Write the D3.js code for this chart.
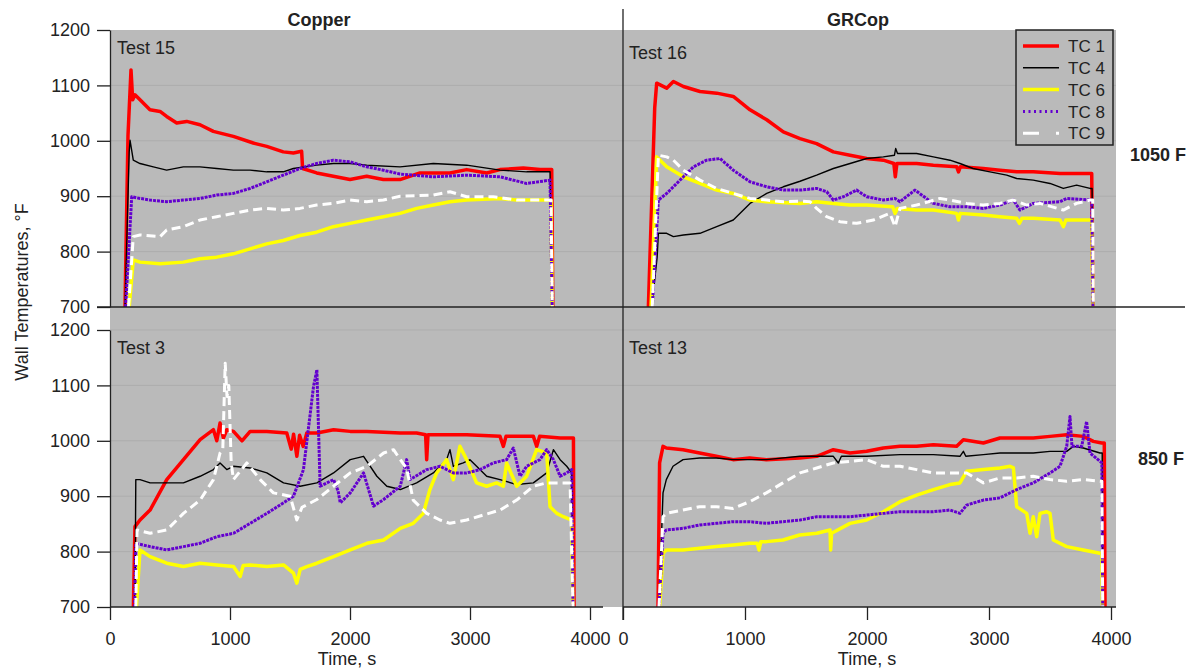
<!DOCTYPE html>
<html>
<head>
<meta charset="utf-8">
<script src="https://d3js.org/d3.v7.min.js"></script>
<style>
  body { margin: 0; background: #fff; }
  svg text { font-family: 'Liberation Sans', Arial, sans-serif; fill: #222; }
</style>
</head>
<body>
<div id="chart"></div>
<script>
// thermocouple names, in legend order
const tcNames = ['TC 1', 'TC 4', 'TC 6', 'TC 8', 'TC 9'];
const xTicks = [0, 1000, 2000, 3000, 4000];
const yTicks = [700, 800, 900, 1000, 1100, 1200];
const columnTitles = ['Copper', 'GRCop'];
const rowTitles = ['1050 F', '850 F'];

// [time s, wall temperature F]
// Test 15 (copper, 1050 F)
const test15_tc1 = [[125,700],[150,1010],[175,1128],[189,1074],[208,1083],[250,1074],[333,1056],[417,1053],[472,1044],[556,1032],[639,1035],[750,1029],[861,1017],[1028,1008],[1194,996],[1306,990],[1444,980],[1528,978],[1597,981],[1605,950],[1722,942],[1861,936],[2000,930],[2139,936],[2278,930],[2417,930],[2583,942],[2833,942],[2972,948],[3139,942],[3250,948],[3444,951],[3583,948],[3681,948],[3690,700]];
const test15_tc4 = [[125,700],[160,980],[167,1001],[194,965],[250,959],[361,953],[472,947],[611,953],[750,953],[889,950],[1028,947],[1167,947],[1306,944],[1444,944],[1528,950],[1722,956],[1861,959],[2000,959],[2139,956],[2417,953],[2694,959],[2972,956],[3250,947],[3472,944],[3667,944],[3680,700]];
const test15_tc6 = [[160,700],[194,785],[250,781],[417,778],[611,781],[750,787],[889,790],[1028,796],[1167,805],[1306,814],[1444,820],[1583,829],[1722,835],[1861,845],[2000,851],[2139,857],[2278,863],[2417,869],[2556,878],[2694,884],[2833,890],[2972,893],[3250,896],[3389,893],[3639,893],[3675,893],[3685,700]];
const test15_tc8 = [[130,700],[181,899],[250,896],[333,893],[472,890],[611,893],[750,896],[889,902],[1028,905],[1167,914],[1306,926],[1444,938],[1583,950],[1722,959],[1861,965],[2000,962],[2139,953],[2278,947],[2417,940],[2694,935],[2972,938],[3250,935],[3472,923],[3667,929],[3685,700]];
const test15_tc9 = [[155,700],[194,827],[250,830],[417,827],[472,839],[611,845],[750,857],[889,863],[1028,869],[1167,875],[1306,878],[1444,875],[1583,878],[1722,884],[1861,887],[2000,893],[2139,890],[2278,893],[2417,900],[2694,902],[2833,908],[2972,899],[3194,899],[3389,893],[3639,893],[3675,893],[3685,700]];

// Test 16 (GRCop, 1050 F)
const test16_tc1 = [[208,700],[260,1060],[276,1104],[358,1095],[413,1107],[495,1098],[631,1089],[768,1086],[904,1080],[1041,1056],[1178,1038],[1314,1016],[1451,1004],[1587,995],[1724,980],[1861,974],[1997,968],[2134,965],[2220,959],[2232,935],[2245,959],[2407,959],[2544,956],[2735,953],[2750,944],[2765,953],[2953,950],[3090,947],[3227,944],[3363,944],[3582,941],[3718,941],[3842,941],[3852,700]];
const test16_tc4 = [[235,700],[280,790],[290,833],[358,833],[413,827],[495,830],[631,833],[768,845],[904,857],[1041,887],[1178,905],[1314,917],[1451,927],[1587,938],[1724,950],[1861,959],[1997,968],[2134,971],[2225,974],[2235,986],[2250,977],[2407,977],[2544,971],[2680,965],[2762,959],[2869,950],[3008,944],[3145,938],[3227,932],[3363,929],[3500,923],[3609,914],[3718,920],[3828,914],[3845,914],[3852,700]];
const test16_tc6 = [[230,700],[276,971],[358,953],[495,935],[631,923],[768,911],[904,905],[1041,893],[1178,890],[1451,887],[1587,890],[1724,887],[1861,884],[1997,884],[2210,881],[2230,869],[2250,878],[2407,875],[2544,875],[2735,869],[2750,857],[2765,869],[2953,866],[3090,863],[3227,860],[3250,851],[3270,860],[3363,860],[3582,857],[3610,845],[3630,857],[3718,857],[3842,857],[3852,700]];
const test16_tc8 = [[240,700],[290,893],[358,905],[495,935],[577,953],[686,965],[795,968],[904,947],[1041,926],[1178,917],[1314,911],[1451,911],[1587,914],[1670,908],[1724,893],[1806,899],[1915,911],[1997,899],[2134,893],[2230,896],[2270,890],[2393,911],[2544,887],[2680,881],[2817,881],[2953,878],[3090,884],[3200,893],[3254,875],[3363,887],[3582,890],[3636,896],[3842,893],[3852,700]];
const test16_tc9 = [[240,700],[290,974],[358,971],[413,965],[495,947],[631,929],[768,914],[904,905],[1041,896],[1178,893],[1314,890],[1451,891],[1533,890],[1587,878],[1669,863],[1779,854],[1915,851],[2052,857],[2188,869],[2230,845],[2270,878],[2407,884],[2599,896],[2680,893],[2817,887],[2953,884],[3090,887],[3200,893],[3309,884],[3418,887],[3609,875],[3718,887],[3828,893],[3850,893],[3855,700]];

// Test 3 (copper, 850 F)
const test3_tc1 = [[195,700],[208,845],[250,857],[334,875],[473,930],[612,966],[751,1002],[862,1020],[890,1000],[917,1032],[945,1005],[973,1020],[1029,1017],[1100,1000],[1168,1017],[1307,1017],[1473,1014],[1510,985],[1530,1012],[1557,972],[1580,1010],[1610,990],[1640,1014],[1724,1014],[1863,1020],[2002,1017],[2141,1017],[2419,1014],[2555,1014],[2630,1011],[2639,966],[2650,1011],[2694,1011],[2972,1011],[3250,1008],[3278,990],[3300,1008],[3528,1008],[3556,990],[3580,1008],[3751,1005],[3862,1005],[3867,700]];
const test3_tc4 = [[208,700],[215,930],[250,930],[334,924],[473,924],[612,924],[751,936],[862,948],[917,960],[973,948],[1029,954],[1168,951],[1307,942],[1446,924],[1585,918],[1724,924],[1863,942],[2002,966],[2113,972],[2224,936],[2307,918],[2419,912],[2555,924],[2694,942],[2805,966],[2833,984],[2861,954],[2944,960],[3000,966],[3055,954],[3139,936],[3250,930],[3389,921],[3528,924],[3639,942],[3695,984],[3751,966],[3806,954],[3848,942],[3856,700]];
const test3_tc6 = [[220,700],[250,803],[334,791],[473,779],[612,773],[751,779],[890,776],[1029,773],[1085,755],[1110,775],[1168,776],[1307,773],[1446,776],[1529,761],[1557,743],[1585,768],[1640,773],[1724,779],[1863,791],[2002,803],[2141,815],[2280,821],[2419,842],[2527,851],[2611,869],[2666,912],[2722,942],[2805,966],[2861,930],[2916,990],[2972,966],[3055,924],[3139,918],[3222,924],[3278,918],[3305,960],[3389,918],[3472,936],[3555,984],[3639,978],[3667,881],[3723,869],[3778,863],[3848,857],[3858,700]];
const test3_tc8 = [[205,700],[215,815],[334,809],[473,803],[612,809],[751,815],[890,827],[1029,833],[1168,851],[1307,869],[1446,888],[1529,900],[1612,948],[1696,1098],[1724,1128],[1751,918],[1863,930],[1900,910],[1919,888],[2002,906],[2113,942],[2196,882],[2280,894],[2419,918],[2472,966],[2500,930],[2639,948],[2750,954],[2861,942],[2972,942],[3083,948],[3194,960],[3305,966],[3361,987],[3417,936],[3472,954],[3583,966],[3639,984],[3695,966],[3751,936],[3806,942],[3848,948],[3858,700]];
const test3_tc9 = [[215,700],[225,839],[334,833],[473,839],[612,869],[751,893],[862,930],[917,978],[940,985],[960,1140],[975,1080],[990,1100],[1010,960],[1029,930],[1140,960],[1251,930],[1362,906],[1501,900],[1557,857],[1600,880],[1724,894],[1863,918],[2002,942],[2141,954],[2280,978],[2363,984],[2419,966],[2472,950],[2527,893],[2639,869],[2750,857],[2833,851],[2972,857],[3111,866],[3250,875],[3389,893],[3528,918],[3639,924],[3751,924],[3834,924],[3858,700]];

// Test 13 (GRCop, 850 F)
const test13_tc1 = [[287,700],[300,960],[328,990],[355,987],[492,984],[628,978],[765,972],[902,966],[1038,969],[1175,966],[1448,969],[1588,972],[1724,984],[1861,978],[1997,981],[2134,987],[2271,990],[2407,990],[2544,993],[2735,990],[2790,1002],[2954,996],[3090,1005],[3227,1005],[3363,1005],[3500,1008],[3637,1011],[3773,1008],[3855,999],[3924,996],[3945,996],[3951,700]];
const test13_tc4 = [[295,700],[328,906],[355,930],[410,954],[492,966],[628,969],[765,969],[902,966],[1175,966],[1451,972],[1724,972],[1765,960],[1790,972],[1997,972],[2271,975],[2544,975],[2762,972],[2790,981],[2810,972],[2954,975],[3090,978],[3363,978],[3500,981],[3637,981],[3691,990],[3773,987],[3910,978],[3928,978],[3932,700]];
const test13_tc6 = [[300,700],[328,797],[355,803],[492,803],[628,806],[765,809],[902,812],[1038,815],[1100,815],[1115,803],[1130,818],[1175,818],[1311,821],[1448,830],[1588,833],[1697,839],[1702,803],[1710,833],[1861,851],[1997,857],[2134,872],[2271,890],[2407,902],[2544,912],[2680,921],[2762,924],[2817,945],[2954,948],[3090,951],[3172,954],[3200,951],[3227,881],[3309,869],[3336,833],[3363,863],[3391,827],[3418,869],[3473,872],[3500,869],[3527,821],[3637,809],[3773,803],[3910,797],[3925,797],[3930,700]];
const test13_tc8 = [[295,700],[328,833],[355,839],[492,842],[628,848],[765,851],[902,854],[1038,854],[1175,851],[1311,854],[1451,857],[1588,863],[1724,863],[1861,863],[1997,866],[2134,869],[2271,872],[2407,872],[2544,872],[2680,875],[2762,869],[2817,884],[2954,893],[3090,897],[3227,912],[3363,924],[3500,942],[3582,954],[3637,990],[3664,1044],[3680,990],[3760,990],[3800,1035],[3828,978],[3910,963],[3925,960],[3932,700]];
const test13_tc9 = [[295,700],[328,863],[355,869],[492,875],[628,881],[765,881],[902,878],[1038,890],[1175,906],[1311,924],[1451,942],[1588,951],[1724,960],[1861,963],[1997,966],[2134,954],[2271,954],[2407,948],[2544,942],[2817,942],[2954,924],[3090,933],[3227,933],[3363,936],[3500,930],[3637,927],[3773,930],[3910,927],[3925,927],[3932,700]];

const width = 1193;
const height = 671;
const gray = '#bababa';
const gridColor = '#adadad';
const fontFamily = "'Liberation Sans', Arial, sans-serif";

// line look per thermocouple
const styles = [
  { color: '#ff0000', width: 3.5, dash: null },
  { color: '#000000', width: 1.4, dash: null },
  { color: '#ffff00', width: 3.5, dash: null },
  { color: '#6300cf', width: 3, dash: '3,1' },
  { color: '#ffffff', width: 3, dash: '9,5' }
];

const panels = [
  { label: 'Test 15', col: 0, row: 0, series: [test15_tc1, test15_tc4, test15_tc6, test15_tc8, test15_tc9] },
  { label: 'Test 16', col: 1, row: 0, series: [test16_tc1, test16_tc4, test16_tc6, test16_tc8, test16_tc9] },
  { label: 'Test 3', col: 0, row: 1, series: [test3_tc1, test3_tc4, test3_tc6, test3_tc8, test3_tc9] },
  { label: 'Test 13', col: 1, row: 1, series: [test13_tc1, test13_tc4, test13_tc6, test13_tc8, test13_tc9] }
];

// horizontal: two columns of time axes
const xScales = [
  d3.scaleLinear().domain([0, 4000]).range([110, 590]),
  d3.scaleLinear().domain([0, 4000]).range([623, 1111])
];
const colEdges = [[110, 603], [623, 1116]];
// vertical: two rows of temperature axes
const yScales = [
  d3.scaleLinear().domain([700, 1200]).range([307, 30]),
  d3.scaleLinear().domain([700, 1200]).range([607, 330])
];

const svg = d3
  .select('#chart')
  .append('svg')
  .attr('width', width)
  .attr('height', height);

svg.append('rect').attr('width', width).attr('height', height).attr('fill', '#fff');

// gray plot area behind all four panels
svg
  .append('rect')
  .attr('x', colEdges[0][0])
  .attr('y', yScales[0](1200))
  .attr('width', colEdges[1][1] - colEdges[0][0])
  .attr('height', yScales[1](700) - yScales[0](1200))
  .attr('fill', gray);

// faint grid lines
yScales.forEach((y, r) => {
  svg
    .append('g')
    .selectAll('line')
    .data(yTicks.filter(v => v > 700 && (r === 1 || v < 1200)))
    .enter()
    .append('line')
    .attr('x1', colEdges[0][0])
    .attr('x2', colEdges[1][1])
    .attr('y1', d => y(d))
    .attr('y2', d => y(d))
    .attr('stroke', gridColor)
    .attr('stroke-width', 1);
});

const defs = svg.append('defs');
const line = d3.line();

panels.forEach((p, i) => {
  const x = xScales[p.col];
  const y = yScales[p.row];
  const clipId = 'clip' + i;
  defs
    .append('clipPath')
    .attr('id', clipId)
    .append('rect')
    .attr('x', colEdges[p.col][0])
    .attr('y', y(1200))
    .attr('width', colEdges[p.col][1] - colEdges[p.col][0])
    .attr('height', y(700) - y(1200));

  const g = svg.append('g').attr('clip-path', `url(#${clipId})`);
  p.series.forEach((s, k) => {
    const st = styles[k];
    g.append('path')
      .attr('d', line.x(d => x(d[0])).y(d => y(d[1]))(s))
      .attr('fill', 'none')
      .attr('stroke', st.color)
      .attr('stroke-width', st.width)
      .attr('stroke-linejoin', 'round')
      .attr('stroke-dasharray', st.dash);
  });

  svg
    .append('text')
    .attr('x', x(0) + (p.col === 0 ? 7 : 6))
    .attr('y', y(1200) + (p.row === 0 && p.col === 1 ? 29 : 24))
    .style('font-size', '18px')
    .text(p.label);
});

// left temperature axes
yScales.forEach(y => {
  const ax = svg
    .append('g')
    .attr('transform', `translate(${xScales[0](0)},0)`)
    .call(
      d3.axisLeft(y)
        .tickValues(yTicks)
        .tickFormat(d3.format('d'))
        .tickSize(13)
        .tickSizeOuter(0)
        .tickPadding(7)
    );
  ax.selectAll('text').style('font-size', '18px').style('font-family', fontFamily).attr('fill', '#222');
  ax.selectAll('line, path').attr('stroke', '#222').attr('stroke-width', 1.3);
});

// bottom time axes
xScales.forEach((x, c) => {
  const ax = svg
    .append('g')
    .attr('transform', `translate(0,${yScales[1](700)})`)
    .call(
      d3.axisBottom(x)
        .tickValues(xTicks)
        .tickFormat(d3.format('d'))
        .tickSize(13)
        .tickSizeOuter(0)
        .tickPadding(12)
    );
  ax.select('.domain').remove();
  ax.selectAll('text').style('font-size', '18px').style('font-family', fontFamily).attr('fill', '#222');
  ax.selectAll('line').attr('stroke', '#222').attr('stroke-width', 1.3);
  ax.append('line')
    .attr('x1', colEdges[c][0])
    .attr('x2', colEdges[c][1])
    .attr('stroke', '#222')
    .attr('stroke-width', 1.3);
  svg
    .append('text')
    .attr('x', (x(0) + x(4000)) / 2 + (c === 0 ? -3 : 0))
    .attr('y', 665)
    .attr('text-anchor', 'middle')
    .style('font-size', '18px')
    .text('Time, s');
});

// long baseline under the top row and the column divider
svg
  .append('line')
  .attr('x1', 97)
  .attr('x2', 1185)
  .attr('y1', yScales[0](700))
  .attr('y2', yScales[0](700))
  .attr('stroke', '#222')
  .attr('stroke-width', 1.3);
svg
  .append('line')
  .attr('x1', xScales[1](0))
  .attr('x2', xScales[1](0))
  .attr('y1', 9)
  .attr('y2', yScales[1](700) + 13)
  .attr('stroke', '#222')
  .attr('stroke-width', 1.3);

// column titles and row labels
columnTitles.forEach((t, c) => {
  svg
    .append('text')
    .attr('x', c === 0 ? 319 : 858)
    .attr('y', 26)
    .attr('text-anchor', 'middle')
    .style('font-size', '18px')
    .style('font-weight', 'bold')
    .text(t);
});
rowTitles.forEach((t, r) => {
  svg
    .append('text')
    .attr('x', r === 0 ? 1130 : 1138)
    .attr('y', r === 0 ? 161 : 465)
    .style('font-size', '18px')
    .style('font-weight', 'bold')
    .text(t);
});

// y axis title
svg
  .append('text')
  .attr('transform', 'translate(28,292) rotate(-90)')
  .attr('text-anchor', 'middle')
  .style('font-size', '18px')
  .text('Wall Temperatures, \u00b0F');

// legend box in the Test 16 panel
const legend = svg.append('g').attr('transform', 'translate(1016,30)');
legend
  .append('rect')
  .attr('width', 97)
  .attr('height', 115)
  .attr('fill', gray)
  .attr('stroke', '#222')
  .attr('stroke-width', 1.5);
const rows = legend
  .selectAll('g.row')
  .data(tcNames)
  .enter()
  .append('g')
  .attr('class', 'row')
  .attr('transform', (d, i) => `translate(0,${16 + i * 21.8})`);
rows
  .append('line')
  .attr('x1', 7)
  .attr('x2', 43)
  .attr('stroke', (d, i) => styles[i].color)
  .attr('stroke-width', (d, i) => styles[i].width)
  .attr('stroke-dasharray', (d, i) => (i === 3 ? '2,3.5' : i === 4 ? '16,17' : null));
rows
  .append('text')
  .attr('x', 52)
  .attr('dy', '0.36em')
  .style('font-size', '17px')
  .text(d => d);
</script>
</body>
</html>
